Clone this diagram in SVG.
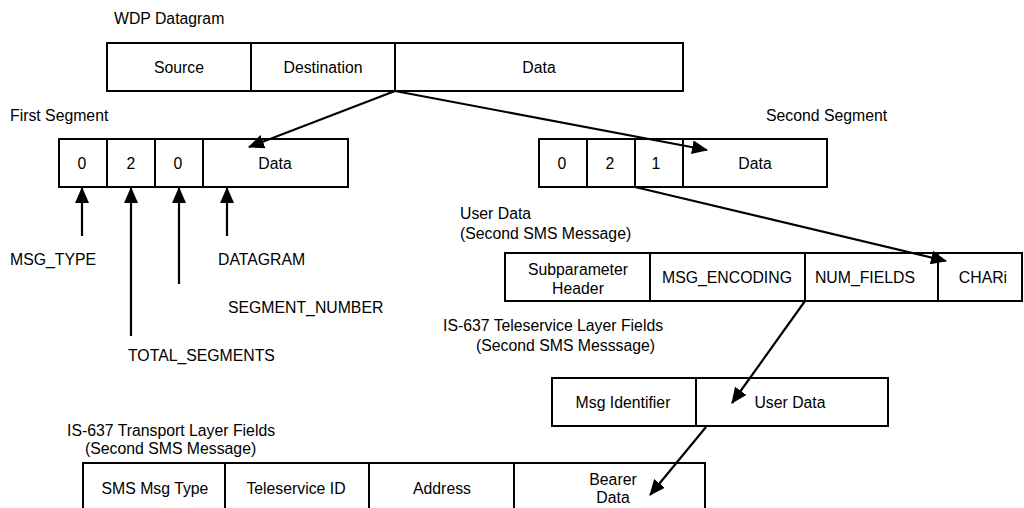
<svg xmlns="http://www.w3.org/2000/svg" width="1024" height="508" viewBox="0 0 1024 508">
<defs>
<style>
text{font-family:"Liberation Sans",Arial,sans-serif;font-size:15.8px;fill:#000}
.c{text-anchor:middle}
.box{fill:#fff;stroke:#000;stroke-width:2}
.div{stroke:#000;stroke-width:2}
.con{stroke:#000;stroke-width:2.2;fill:none;marker-end:url(#ah)}
</style>
<marker id="ah" markerUnits="userSpaceOnUse" markerWidth="16" markerHeight="14" refX="15" refY="7" orient="auto"><path d="M0,0 L16,7 L0,14 z" fill="#000"/></marker>
</defs>
<rect width="1024" height="508" fill="#fff"/>

<g id="labels">
<text x="114" y="24">WDP Datagram</text>
<text x="10" y="121">First Segment</text>
<text x="766" y="121">Second Segment</text>
<text x="10" y="265">MSG_TYPE</text>
<text x="218" y="265">DATAGRAM</text>
<text x="228" y="313">SEGMENT_NUMBER</text>
<text x="128" y="361">TOTAL_SEGMENTS</text>
<text x="460" y="219">User Data</text>
<text x="460" y="239">(Second SMS Message)</text>
<text x="443" y="331">IS-637 Teleservice Layer Fields</text>
<text x="476" y="351">(Second SMS Messsage)</text>
<text x="67" y="436">IS-637 Transport Layer Fields</text>
<text x="85" y="454">(Second SMS Message)</text>
</g>

<g id="wdp">
<rect class="box" x="107" y="43" width="576" height="48"/>
<line class="div" x1="251" y1="43" x2="251" y2="91"/>
<line class="div" x1="395" y1="43" x2="395" y2="91"/>
<text class="c" x="179" y="73">Source</text>
<text class="c" x="323" y="73">Destination</text>
<text class="c" x="539" y="73">Data</text>
</g>

<g id="first-segment">
<rect class="box" x="59" y="139" width="289" height="48"/>
<line class="div" x1="107" y1="139" x2="107" y2="187"/>
<line class="div" x1="155" y1="139" x2="155" y2="187"/>
<line class="div" x1="203" y1="139" x2="203" y2="187"/>
<text class="c" x="82" y="169">0</text>
<text class="c" x="131" y="169">2</text>
<text class="c" x="178" y="169">0</text>
<text class="c" x="275" y="169">Data</text>
</g>

<g id="second-segment">
<rect class="box" x="539" y="139" width="288" height="48"/>
<line class="div" x1="587" y1="139" x2="587" y2="187"/>
<line class="div" x1="635" y1="139" x2="635" y2="187"/>
<line class="div" x1="683" y1="139" x2="683" y2="187"/>
<text class="c" x="562" y="169">0</text>
<text class="c" x="610" y="169">2</text>
<text class="c" x="656" y="169">1</text>
<text class="c" x="755" y="169">Data</text>
</g>

<g id="user-data">
<rect class="box" x="505" y="253" width="517" height="48"/>
<line class="div" x1="650" y1="253" x2="650" y2="301"/>
<line class="div" x1="805" y1="253" x2="805" y2="301"/>
<line class="div" x1="938" y1="253" x2="938" y2="301"/>
<text class="c" x="578" y="275">Subparameter</text>
<text class="c" x="578" y="294">Header</text>
<text class="c" x="727" y="283">MSG_ENCODING</text>
<text class="c" x="865" y="283">NUM_FIELDS</text>
<text class="c" x="983" y="283">CHARi</text>
</g>

<g id="teleservice">
<rect class="box" x="552" y="378" width="336" height="48"/>
<line class="div" x1="696" y1="378" x2="696" y2="426"/>
<text class="c" x="623" y="408">Msg Identifier</text>
<text class="c" x="790" y="408">User Data</text>
</g>

<g id="transport">
<rect class="box" x="83" y="463" width="622" height="50"/>
<line class="div" x1="225" y1="463" x2="225" y2="513"/>
<line class="div" x1="369" y1="463" x2="369" y2="513"/>
<line class="div" x1="514" y1="463" x2="514" y2="513"/>
<text class="c" x="155" y="494">SMS Msg Type</text>
<text class="c" x="296" y="494">Teleservice ID</text>
<text class="c" x="442" y="494">Address</text>
<text class="c" x="613" y="485">Bearer</text>
<text class="c" x="613" y="503">Data</text>
</g>

<g id="connectors">
<line class="con" x1="395" y1="91" x2="249" y2="147"/>
<line class="con" x1="395" y1="91" x2="707" y2="150"/>
<line class="con" x1="635" y1="187" x2="946" y2="261"/>
<line class="con" x1="805" y1="301" x2="732" y2="403"/>
<line class="con" x1="706" y1="427" x2="650" y2="495"/>
<line class="con" x1="82" y1="236" x2="82" y2="188"/>
<line class="con" x1="131" y1="336" x2="131" y2="188"/>
<line class="con" x1="179" y1="284" x2="179" y2="188"/>
<line class="con" x1="227" y1="236" x2="227" y2="188"/>
</g>
</svg>
